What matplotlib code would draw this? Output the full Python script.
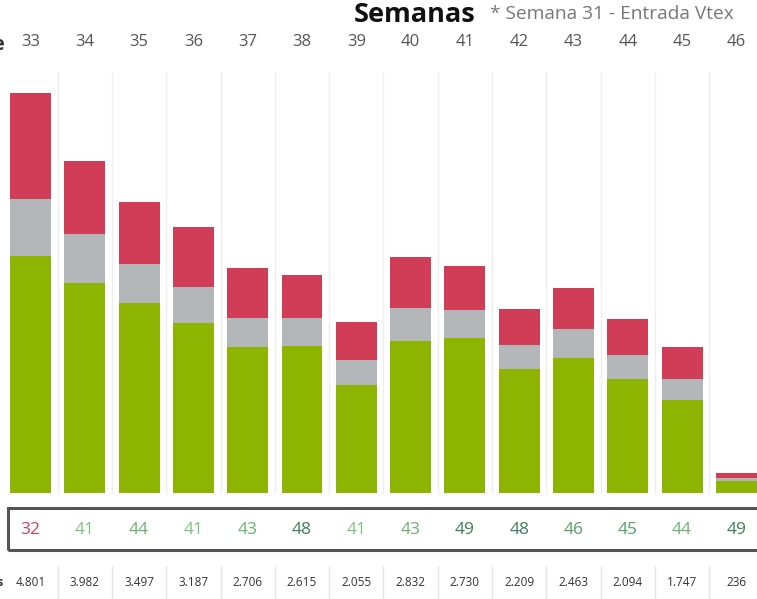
import matplotlib
matplotlib.use('Agg')
import matplotlib.pyplot as plt
from matplotlib.patches import Rectangle
from matplotlib.transforms import blended_transform_factory

plt.rcParams['font.family'] = ['Open Sans', 'DejaVu Sans']

# Data
weeks = [33, 34, 35, 36, 37, 38, 39, 40, 41, 42, 43, 44, 45, 46]
totals = [4801, 3982, 3497, 3187, 2706, 2615, 2055, 2832, 2730, 2209, 2463, 2094, 1747, 236]
green_vals = [2845, 2521, 2281, 2041, 1753, 1765, 1297, 1825, 1861, 1489, 1621, 1369, 1117, 140]
gray_vals = [684, 588, 468, 432, 348, 336, 300, 396, 336, 288, 348, 288, 252, 40]
red_vals = [t - g - s for t, g, s in zip(totals, green_vals, gray_vals)]
scores = [32, 41, 44, 41, 43, 48, 41, 43, 49, 48, 46, 45, 44, 49]
total_labels = ['4.801', '3.982', '3.497', '3.187', '2.706', '2.615', '2.055',
                '2.832', '2.730', '2.209', '2.463', '2.094', '1.747', '236']

GREEN = '#8db400'
GRAY = '#b4b7b9'
RED = '#d13d56'


def score_color(v):
    if v < 40:
        return '#d0405a'
    if v <= 41:
        return '#7cc47c'
    if v <= 44:
        return '#68b46e'
    if v <= 46:
        return '#55a066'
    return '#3c8058'


W, H = 757, 599
fig = plt.figure(figsize=(W / 100, H / 100), dpi=100)

col = 54.3
left_px = 30.5 - col / 2
bottom_px, top_px = 493, 60
ax = fig.add_axes([left_px / W, (H - bottom_px) / H, (W - left_px) / W,
                   (bottom_px - top_px) / H])
ax.patch.set_alpha(0)
x = list(range(len(weeks)))
ax.set_xlim(-0.5, -0.5 + (W - left_px) / col)
ax.set_ylim(0, (bottom_px - top_px) / (400 / 4801))

bw = 0.755
ax.bar(x, green_vals, width=bw, color=GREEN, zorder=3)
ax.bar(x, gray_vals, width=bw, bottom=green_vals, color=GRAY, zorder=3)
base = [g + s for g, s in zip(green_vals, gray_vals)]
ax.bar(x, red_vals, width=bw, bottom=base, color=RED, zorder=3)

for s in ax.spines.values():
    s.set_visible(False)
ax.set_xticks([])
ax.set_yticks([])

tr = blended_transform_factory(ax.transData, fig.transFigure)


def fy(px):
    return (H - px) / H


for i in range(len(weeks)):
    ax.plot([i + 0.5, i + 0.5], [fy(72), fy(493)], transform=tr,
            color='#eeeeee', lw=1, zorder=1, clip_on=False)

# header
fig.text(415 / W, fy(15), 'Semanas', fontsize=19.5, fontweight='bold',
         color='#111111', ha='center', va='center')
fig.text(490 / W, fy(14), '* Semana 31 - Entrada Vtex', fontsize=13.8,
         color='#777777', ha='left', va='center')
fig.text(5 / W, fy(45), 'Nome', fontsize=14, fontweight='bold',
         color='#333333', ha='right', va='center')
for i, w in enumerate(weeks):
    ax.text(i, fy(42), str(w), transform=tr, fontsize=12, color='#555555',
            ha='center', va='center')

# boxed score row
fig.patches.append(Rectangle((8 / W, fy(550)), (W + 10) / W, 42 / H,
                             transform=fig.transFigure, fill=False,
                             edgecolor='#555555', lw=2.2))
for i, v in enumerate(scores):
    ax.text(i, fy(530), str(v), transform=tr, fontsize=12.5,
            color=score_color(v), ha='center', va='center')

# totals row
for i, lab in enumerate(total_labels):
    ax.text(i, fy(583), lab, transform=tr, fontsize=8.5, color='#333333',
            ha='center', va='center')
    ax.plot([i + 0.5, i + 0.5], [fy(566), fy(599)], transform=tr,
            color='#e6e6e6', lw=1, clip_on=False)
fig.text(4 / W, fy(583), 'Totals', fontsize=9, fontweight='bold',
         color='#333333', ha='right', va='center')

fig.savefig('out.png', dpi=100)
